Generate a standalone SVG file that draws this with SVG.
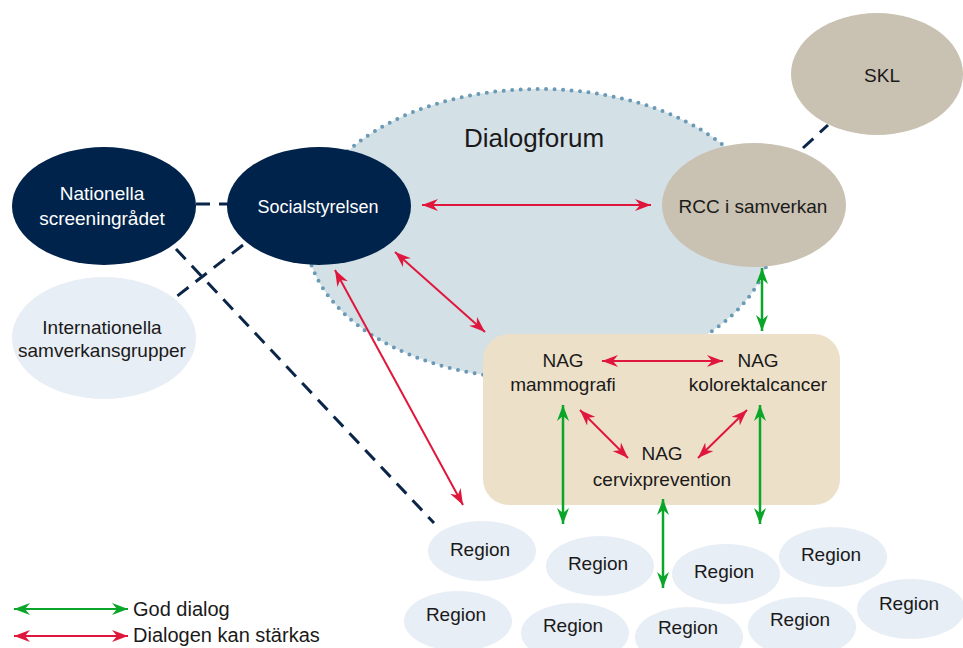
<svg xmlns="http://www.w3.org/2000/svg" width="963" height="648" viewBox="0 0 963 648">
<style>
text{font-family:"Liberation Sans",Arial,sans-serif;font-size:19px;fill:#1a1a1a;text-anchor:middle}
.w{fill:#ffffff}
.navy{fill:#00234b}
.tan{fill:#c9c1b1}
.pale{fill:#e8eef5}
.dash{stroke:#0b2548;stroke-width:3;stroke-dasharray:14 9;fill:none}
.red{stroke:#e0173c;stroke-width:2;fill:none;marker-start:url(#ra);marker-end:url(#ra)}
.green{stroke:#0aa62a;stroke-width:2.5;fill:none;marker-start:url(#ga);marker-end:url(#ga)}
</style>
<defs>
<marker id="ra" viewBox="0 0 16 12" refX="16" refY="6" markerWidth="16" markerHeight="12" markerUnits="userSpaceOnUse" orient="auto-start-reverse"><path d="M0,0 L16,6 L0,12 L5,6 z" fill="#e0173c"/></marker>
<marker id="ga" viewBox="0 0 16 12" refX="16" refY="6" markerWidth="16" markerHeight="12" markerUnits="userSpaceOnUse" orient="auto-start-reverse"><path d="M0,0 L16,6 L0,12 L5,6 z" fill="#0aa62a"/></marker>
</defs>
<rect width="963" height="648" fill="#ffffff"/>
<g id="dialogforum">
<ellipse cx="539" cy="234" rx="233" ry="145" fill="#d3e0e6" stroke="#6a9ab5" stroke-width="4" stroke-linecap="round" stroke-dasharray="0 8.5"/>
<text x="534" y="147" style="font-size:26px">Dialogforum</text>
</g>
<g id="nag-box">
<rect x="483" y="334" width="357" height="171" rx="26" fill="#ede0c8"/>
</g>
<g id="connectors">
<line class="dash" x1="196" y1="204" x2="228" y2="204"/>
<line class="dash" x1="243" y1="245" x2="176" y2="297"/>
<line class="dash" x1="176" y1="249" x2="434" y2="523"/>
<line class="dash" x1="803" y1="148" x2="828" y2="125"/>
<line class="red" x1="422" y1="205" x2="651" y2="205"/>
<line class="red" x1="395" y1="252" x2="485" y2="332"/>
<line class="red" x1="335" y1="270" x2="463" y2="505"/>
<line class="red" x1="602" y1="361" x2="723" y2="361"/>
<line class="red" x1="580" y1="410" x2="628" y2="458"/>
<line class="red" x1="747" y1="410" x2="698" y2="458"/>
<line class="green" x1="762" y1="268" x2="762" y2="331"/>
<line class="green" x1="563" y1="405" x2="563" y2="524"/>
<line class="green" x1="760" y1="405" x2="760" y2="524"/>
<line class="green" x1="663" y1="499" x2="663" y2="588"/>
</g>
<g id="nationella">
<ellipse class="navy" cx="104" cy="206" rx="92" ry="59"/>
<text class="w" x="102" y="200">Nationella</text>
<text class="w" x="102" y="225">screeningrådet</text>
</g>
<g id="socialstyrelsen">
<ellipse class="navy" cx="319" cy="206" rx="92" ry="59"/>
<text class="w" x="318" y="213" style="font-size:18px">Socialstyrelsen</text>
</g>
<g id="internationella">
<ellipse class="pale" cx="104" cy="338" rx="92" ry="61"/>
<text x="102" y="334">Internationella</text>
<text x="102" y="357">samverkansgrupper</text>
</g>
<g id="rcc">
<ellipse class="tan" cx="754" cy="205" rx="92" ry="62"/>
<text x="753" y="213">RCC i samverkan</text>
</g>
<g id="skl">
<ellipse class="tan" cx="877" cy="74" rx="86" ry="61"/>
<text x="882" y="82">SKL</text>
</g>
<g id="nag-mammografi">
<text x="563" y="367">NAG</text>
<text x="563" y="391">mammografi</text>
</g>
<g id="nag-kolorektalcancer">
<text x="758" y="367">NAG</text>
<text x="758" y="391">kolorektalcancer</text>
</g>
<g id="nag-cervixprevention">
<text x="662" y="460">NAG</text>
<text x="662" y="486">cervixprevention</text>
</g>
<g id="region1"><ellipse class="pale" cx="482" cy="551" rx="54" ry="30"/><text x="480" y="556">Region</text></g>
<g id="region2"><ellipse class="pale" cx="600" cy="566" rx="54" ry="30"/><text x="598" y="570">Region</text></g>
<g id="region3"><ellipse class="pale" cx="726" cy="574" rx="54" ry="30"/><text x="724" y="578">Region</text></g>
<g id="region4"><ellipse class="pale" cx="833" cy="557" rx="54" ry="30"/><text x="831" y="561">Region</text></g>
<g id="region5"><ellipse class="pale" cx="458" cy="621" rx="54" ry="30"/><text x="456" y="621">Region</text></g>
<g id="region6"><ellipse class="pale" cx="575" cy="633" rx="54" ry="30"/><text x="573" y="632">Region</text></g>
<g id="region7"><ellipse class="pale" cx="689" cy="637" rx="54" ry="30"/><text x="688" y="634">Region</text></g>
<g id="region8"><ellipse class="pale" cx="802" cy="627" rx="54" ry="30"/><text x="800" y="626">Region</text></g>
<g id="region9"><ellipse class="pale" cx="911" cy="609" rx="54" ry="30"/><text x="909" y="610">Region</text></g>
<g id="legend">
<line class="green" x1="14" y1="609" x2="128" y2="609" style="stroke-width:2"/>
<line class="red" x1="14" y1="636" x2="128" y2="636"/>
<text x="133" y="616" style="text-anchor:start;font-size:20px">God dialog</text>
<text x="133" y="642" style="text-anchor:start;font-size:20px">Dialogen kan stärkas</text>
</g>
</svg>
